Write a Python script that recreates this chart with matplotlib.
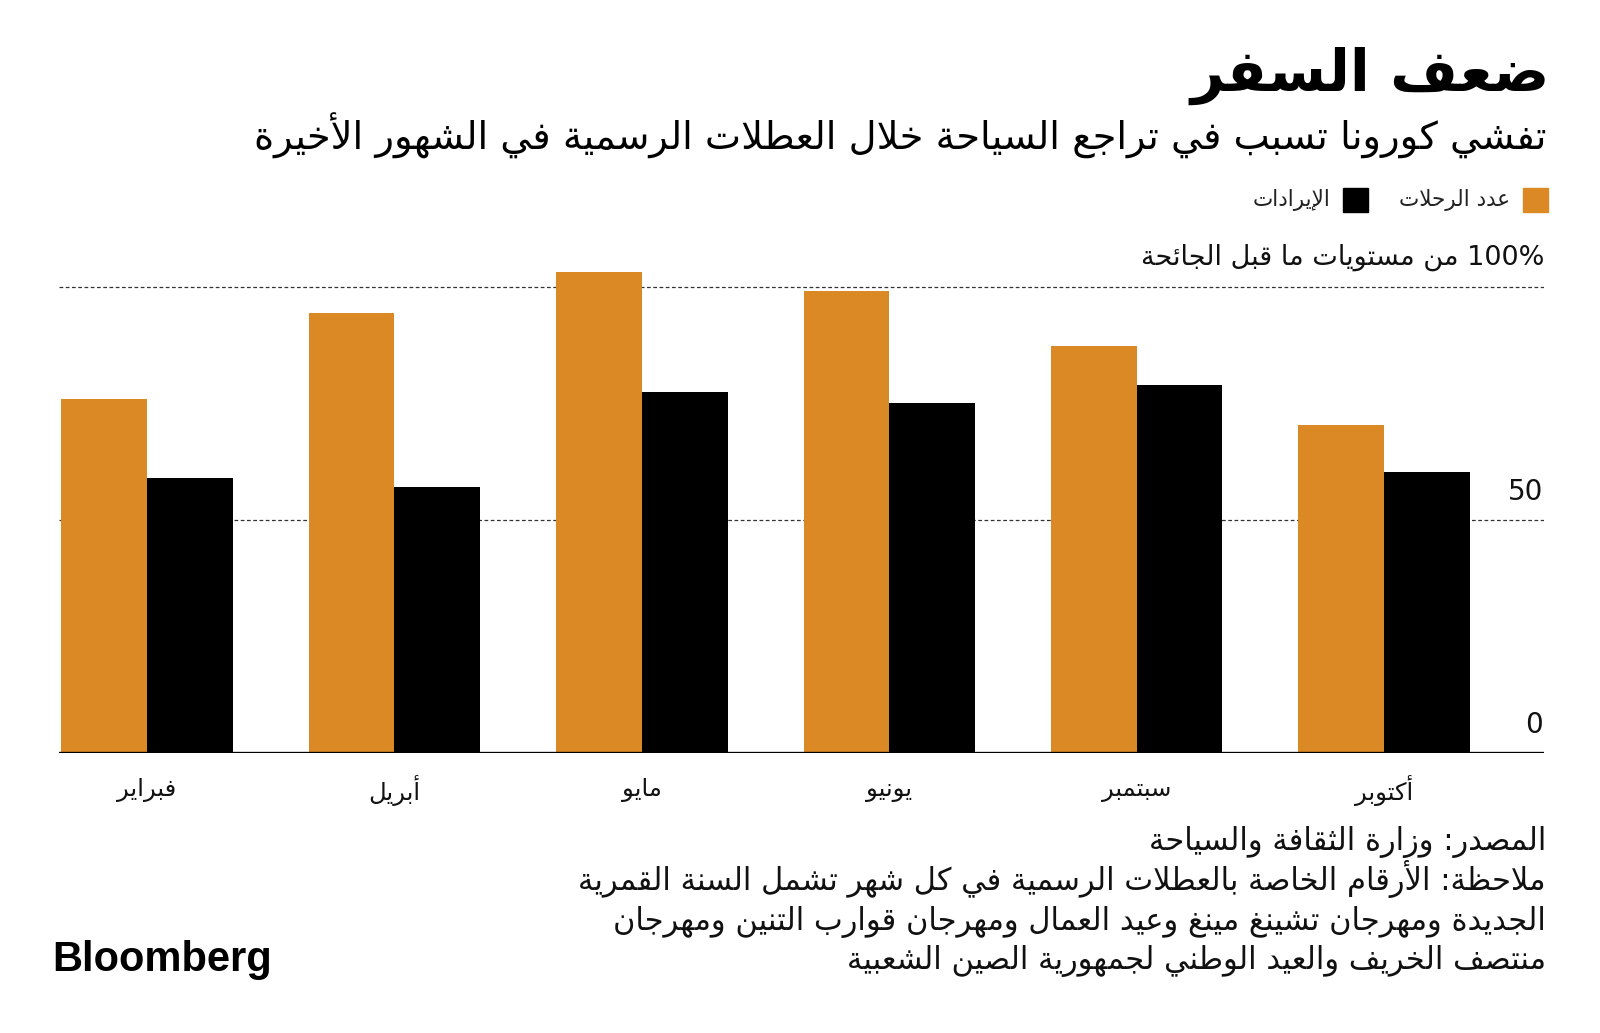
import re
import numpy as np
import matplotlib
matplotlib.use("Agg")
import matplotlib.pyplot as plt
from matplotlib.patches import Rectangle

# ---- data (percent of pre-pandemic levels) ----
months = ["فبراير", "أبريل", "مايو", "يونيو", "سبتمبر", "أكتوبر"]
trips = [76, 94.5, 103.3, 99.3, 87.3, 70.5]
revenue = [59, 57.1, 77.5, 75.2, 79, 60.3]
yticks = [0, 50]
gridlines = [50, 100]

title = "ضعف السفر"
subtitle = "تفشي كورونا تسبب في تراجع السياحة خلال العطلات الرسمية في الشهور الأخيرة"
legend_labels = ["عدد الرحلات", "الإيرادات"]
unit_label = "100% من مستويات ما قبل الجائحة"
footnotes = [
    "المصدر: وزارة الثقافة والسياحة",
    "ملاحظة: الأرقام الخاصة بالعطلات الرسمية في كل شهر تشمل السنة القمرية",
    "الجديدة ومهرجان تشينغ مينغ وعيد العمال ومهرجان قوارب التنين ومهرجان",
    "منتصف الخريف والعيد الوطني لجمهورية الصين الشعبية",
]

ORANGE = "#DA8924"
BLACK = "#000000"

# ---- minimal Arabic shaping (matplotlib has no text shaping / bidi) ----
# right-joining letters: isolated, final
RIGHT = {
    "\u0622": 0xFE81, "\u0623": 0xFE83, "\u0624": 0xFE85, "\u0625": 0xFE87,
    "\u0627": 0xFE8D, "\u0629": 0xFE93, "\u062F": 0xFEA9, "\u0630": 0xFEAB,
    "\u0631": 0xFEAD, "\u0632": 0xFEAF, "\u0648": 0xFEED, "\u0649": 0xFEEF,
}
# dual-joining letters: isolated, final, initial, medial
DUAL = {
    "\u0626": 0xFE89, "\u0628": 0xFE8F, "\u062A": 0xFE95, "\u062B": 0xFE99,
    "\u062C": 0xFE9D, "\u062D": 0xFEA1, "\u062E": 0xFEA5, "\u0633": 0xFEB1,
    "\u0634": 0xFEB5, "\u0635": 0xFEB9, "\u0636": 0xFEBD, "\u0637": 0xFEC1,
    "\u0638": 0xFEC5, "\u0639": 0xFEC9, "\u063A": 0xFECD, "\u0641": 0xFED1,
    "\u0642": 0xFED5, "\u0643": 0xFED9, "\u0644": 0xFEDD, "\u0645": 0xFEE1,
    "\u0646": 0xFEE5, "\u0647": 0xFEE9, "\u064A": 0xFEF1,
}
LAM_ALEF = {"\u0622": 0xFEF5, "\u0623": 0xFEF7, "\u0625": 0xFEF9, "\u0627": 0xFEFB}


def shape(text):
    """Replace Arabic letters by their contextual presentation forms."""
    out = []
    prev_joins = False
    i, n = 0, len(text)
    while i < n:
        c = text[i]
        if c == "\u0644" and i + 1 < n and text[i + 1] in LAM_ALEF:
            out.append(chr(LAM_ALEF[text[i + 1]] + (1 if prev_joins else 0)))
            prev_joins = False
            i += 2
            continue
        if c in DUAL or c in RIGHT:
            nxt = text[i + 1] if i + 1 < n else ""
            next_joins = c in DUAL and (nxt in DUAL or nxt in RIGHT)
            base = DUAL.get(c, RIGHT.get(c))
            if prev_joins and next_joins:
                code = base + 3
            elif prev_joins:
                code = base + 1
            elif next_joins:
                code = base + 2
            else:
                code = base
            out.append(chr(code))
            prev_joins = c in DUAL
        else:
            out.append(c)
            prev_joins = False
        i += 1
    return "".join(out)


def ar(text):
    """Shape and put into visual (left-to-right drawing) order."""
    parts = re.split(r"([0-9A-Za-z%]+)", shape(text))
    parts = [p if re.fullmatch(r"[0-9A-Za-z%]+", p) else p[::-1] for p in parts]
    return "".join(reversed(parts))


W, H = 1600, 1033


def fx(x):
    return x / W


def fy(y):
    return 1 - y / H


plt.rcParams["font.family"] = ["DejaVu Sans"]
fig = plt.figure(figsize=(16, 10.33), dpi=100)

# axes placed in pixel terms of the reference
ax = fig.add_axes([fx(59), fy(753), (1544 - 59) / W, 489 / H])
ax.set_xlim(-0.356, 5.647)
ax.set_ylim(0, 105)

x = np.arange(len(months))
w = 0.3464
ax.bar(x - w, trips, width=w, align="edge", color=ORANGE, zorder=3)
ax.bar(x, revenue, width=w, align="edge", color=BLACK, zorder=3)

for g in gridlines:
    ax.axhline(g, color="#333333", lw=0.9, ls=(0, (3, 2)), zorder=1)
ax.axhline(0, color="black", lw=2.4, zorder=4)

for v in yticks:
    ax.text(0.9995, v + 6.0, str(v), transform=ax.get_yaxis_transform(),
            ha="right", va="center", fontsize=20, color="#111111")

for xi, m in zip(x, months):
    ax.text(xi, -8.0, ar(m), ha="center", va="center", fontsize=17.5, color="#111111")

for s in ax.spines.values():
    s.set_visible(False)
ax.set_xticks([])
ax.set_yticks([])

# ---- titles ----
fig.text(fx(1550), fy(76), ar(title), ha="right", va="center",
         fontsize=42, fontweight="bold", color="black")
fig.text(fx(1546), fy(136), ar(subtitle), ha="right", va="center",
         fontsize=27.6, color="black")

# ---- legend ----
sq = 24.5
fig.patches.append(Rectangle((fx(1523), fy(200 + sq / 2)), sq / W, sq / H,
                             transform=fig.transFigure, color=ORANGE))
fig.text(fx(1510), fy(200), ar(legend_labels[0]), ha="right", va="center",
         fontsize=15.5, color="#222222")
fig.patches.append(Rectangle((fx(1343), fy(200 + sq / 2)), sq / W, sq / H,
                             transform=fig.transFigure, color=BLACK))
fig.text(fx(1330), fy(200), ar(legend_labels[1]), ha="right", va="center",
         fontsize=15.5, color="#222222")

fig.text(fx(1544), fy(257), ar(unit_label), ha="right", va="center",
         fontsize=19.5, color="#111111")

# ---- footnotes (baseline aligned so spacing stays even) ----
for k, line in enumerate(footnotes):
    fig.text(fx(1546), fy(850 + k * 39.8), ar(line), ha="right", va="baseline",
             fontsize=22, color="#111111")

fig.text(fx(52), fy(960), "Bloomberg", ha="left", va="center",
         fontsize=30, fontweight="bold", family="Liberation Sans", color="black")

fig.savefig("out.png", dpi=100)
